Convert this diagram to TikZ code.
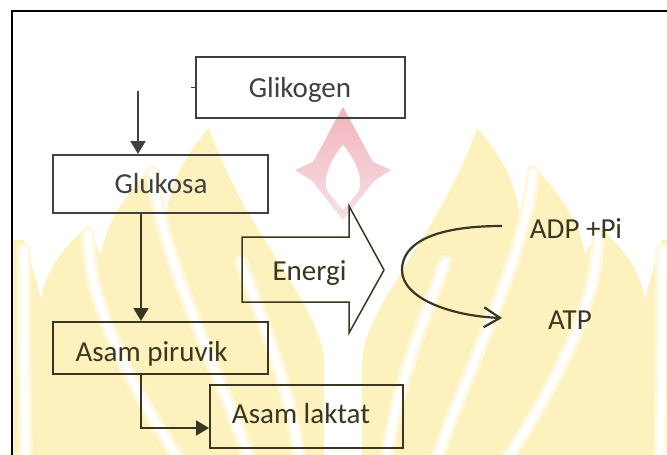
\documentclass[tikz,border=0pt]{standalone}
\usepackage{fontspec}
\setmainfont{Carlito}
\usetikzlibrary{arrows.meta}

\definecolor{inkA}{HTML}{404040}
\definecolor{inkB}{HTML}{3B3620}
\definecolor{wmYellow}{HTML}{FDF1BD}
\definecolor{wmHalo}{HTML}{FEF8DF}
\definecolor{wmPink}{HTML}{F4B4BB}
\definecolor{wmPinkLight}{HTML}{F5E0E6}

% one half of the background emblem: yellow flame tongues split by pale stripes
\newcommand\emblemhalf{%
  \fill[wmYellow] (362,470) -- (362,360)
     .. controls (368,300) and (440,235) .. (477,128)
     .. controls (505,160) and (515,185) .. (520,215)
     .. controls (525,200) and (530,185) .. (533,165)
     .. controls (565,200) and (580,225) .. (585,255)
     .. controls (590,245) and (596,235) .. (598,226)
     .. controls (625,250) and (640,270) .. (645,300)
     .. controls (652,270) and (658,255) .. (662,240)
     -- (720,240) -- (720,470) -- cycle;
  \draw[stripe] (385,470) .. controls (395,390) and (420,330) .. (445,262);
  \draw[stripe] (433,470) .. controls (470,360) and (525,260) .. (533,172);
  \draw[stripe] (500,470) .. controls (560,380) and (598,300) .. (598,234);
  \draw[stripe] (660,470) .. controls (662,380) and (662,300) .. (662,250);
}

\begin{document}
\begin{tikzpicture}[x=1pt,y=-1pt,
  box/.style={draw, line width=2pt, rectangle, inner sep=0pt},
  lbl/.style={anchor=base, inner sep=0pt, font=\fontsize{29}{34}\selectfont},
  flow/.style={line width=2.2pt, -{Triangle[length=13pt,width=15pt]}},
  stripe/.style={draw=white, line width=7pt, line cap=round,
    preaction={draw=wmHalo, line width=14pt, line cap=round}}]

\useasboundingbox (0,0) rectangle (667,455);
\clip (0,0) rectangle (667,455);
\fill[white] (0,0) rectangle (667,455);

% background emblem, mirrored about x = 343, kept inside the frame
\begin{scope}
  \clip (13,12) rectangle (667,455);
  \emblemhalf
  \begin{scope}[shift={(686,0)}, xscale=-1]
    \emblemhalf
  \end{scope}
\end{scope}

% red flame of the emblem
\shade[top color=wmPink, bottom color=wmPinkLight]
  (343,107) .. controls (330,130) and (320,150) .. (313,162) -- (295,170)
  -- (312,181) -- (343,220) -- (374,181) -- (391,170) -- (373,162)
  .. controls (366,150) and (356,130) .. (343,107) -- cycle;
\fill[white]
  (343,145) .. controls (330,160) and (322,180) .. (328,192) -- (343,210)
  -- (358,192) .. controls (364,180) and (356,160) .. (343,145) -- cycle;

% frame
\draw[black, line width=1.5pt] (12,470) -- (12,11) -- (680,11);

% boxes
\node[box, inkA, minimum width=209pt, minimum height=61pt] (glik) at (300.5,87.5) {};
\node[box, inkA, minimum width=215pt, minimum height=58pt] (gluk) at (160.5,184) {};
\node[box, inkB, minimum width=215pt, minimum height=52pt] (piru) at (160.5,348) {};
\node[box, inkB, minimum width=193pt, minimum height=63pt] (lakt) at (306.5,416.5) {};

% labels
\node[lbl, text=inkA] (glikT) at (300,97) {Glikogen};
\node[lbl, text=inkA] (glukT) at (161,193) {Glukosa};
\node[lbl, text=inkB] (piruT) at (151.5,361) {Asam piruvik};
\node[lbl, text=inkB] (laktT) at (301,423) {Asam laktat};
\node[lbl, text=inkB] (energiT) at (309.5,280) {Energi};
\node[lbl, text=inkB] (adpT) at (576,238) {ADP +Pi};
\node[lbl, text=inkB] (atpT) at (570,329) {ATP};

% connectors
\draw[inkA, line width=1pt] (glik.west) -- ++(-4,0);
\coordinate (in0) at (138,91);
\draw[flow, inkA] (in0) -- (in0 |- gluk.north);
\draw[flow, inkB] ([xshift=-19.5pt]gluk.south) -- ([xshift=-19.5pt]piru.north);
\draw[flow, inkB] ([xshift=-19.5pt]piru.south) |- ([yshift=-11.5pt]lakt.west);

% energy block arrow
\draw[inkB, line width=1.5pt, line join=miter]
  (242,237) -- (349,237) -- (349,206) -- (384,270) -- (349,333)
  -- (349,302) -- (242,302) -- cycle;

% ADP + Pi to ATP
\coordinate (c0) at (502,226);
\coordinate (c1) at (502,318);
\draw[inkB, line width=2.2pt, -{Straight Barb[length=16pt,width=20pt]}]
  (c0) .. controls (430,226) and (402,245) .. (402,270)
       .. controls (402,298) and (450,316) .. (c1);
\end{tikzpicture}
\end{document}
